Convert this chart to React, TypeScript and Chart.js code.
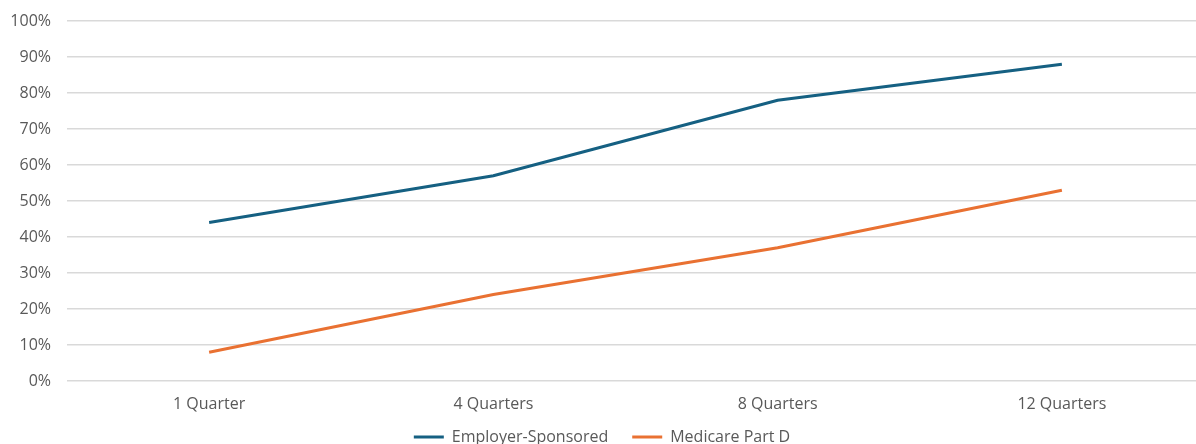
import React, { useEffect, useRef } from "react";
import { Chart, registerables } from "chart.js";

Chart.register(...registerables);

const categories = ["1 Quarter", "4 Quarters", "8 Quarters", "12 Quarters"];
const employerSponsored = [44, 57, 78, 88];
const medicarePartD = [8, 24, 37, 53];
const yTicks = [0, 10, 20, 30, 40, 50, 60, 70, 80, 90, 100];

const extendXLabelArea = {
  id: "extendXLabelArea",
  afterLayout(chart: any) {
    const x = chart.scales.x;
    if (x) x.bottom = x.top + 40;
  },
};

export default function App() {
  const ref = useRef<HTMLCanvasElement | null>(null);
  useEffect(() => {
    if (!ref.current) return;
    const font = { family: "'Open Sans', 'Liberation Sans', sans-serif", size: 16 };
    const chart = new Chart(ref.current, {
      type: "line",
      data: {
        labels: categories,
        datasets: [
          {
            label: "Employer-Sponsored",
            data: employerSponsored,
            borderColor: "#156082",
            backgroundColor: "#156082",
            borderWidth: 3,
            pointRadius: 0,
            tension: 0,
          },
          {
            label: "Medicare Part D",
            data: medicarePartD,
            borderColor: "#E97132",
            backgroundColor: "#E97132",
            borderWidth: 3,
            pointRadius: 0,
            tension: 0,
          },
        ],
      },
      plugins: [extendXLabelArea],
      options: {
        animation: false,
        responsive: false,
        layout: { padding: { top: 21, left: 0, right: 0, bottom: 0 } },
        plugins: {
          tooltip: { enabled: false },
          legend: {
            position: "bottom",
            maxHeight: 39,
            labels: {
              usePointStyle: true,
              pointStyle: "line",
              pointStyleWidth: 30,
              color: "#595959",
              font,
              padding: 24,
            },
          },
        },
        scales: {
          x: {
            offset: true,
            afterFit: (s: any) => {
              s.height = 24;
            },
            grid: { display: false, drawTicks: false },
            border: { display: false },
            ticks: { color: "#595959", font, padding: 14 },
          },
          y: {
            min: 0,
            max: 100,
            afterBuildTicks: (s: any) => {
              s.ticks = yTicks.map((v) => ({ value: v }));
            },
            afterFit: (s: any) => {
              s.width = 67;
              s.paddingTop = 0;
              s.paddingBottom = 0;
            },
            grid: { color: "#d9d9d9", lineWidth: 1.5, drawTicks: false },
            border: { display: false },
            ticks: {
              color: "#595959",
              font,
              padding: 16,
              callback: (v: any) => v + "%",
            },
          },
        },
      },
    });
    return () => chart.destroy();
  }, []);
  return (
    <div style={{ position: "absolute", left: 0, top: 0, width: 1196, height: 444, overflow: "hidden", background: "#fff" }}>
      <canvas ref={ref} width={1204} height={444} style={{ display: "block" }} />
    </div>
  );
}
